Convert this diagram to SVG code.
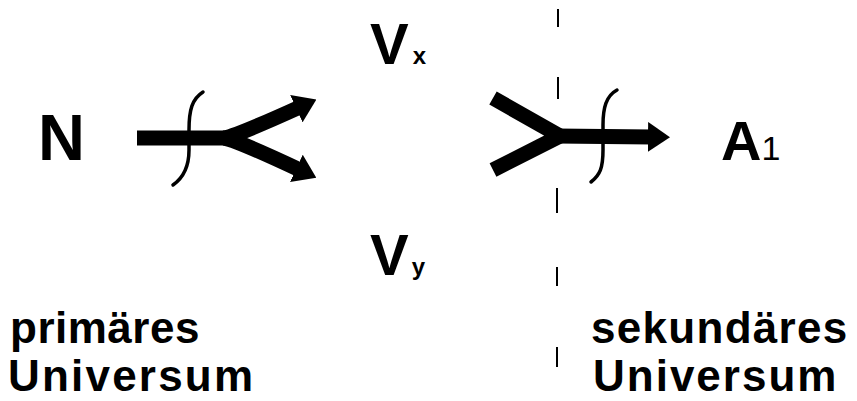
<svg xmlns="http://www.w3.org/2000/svg" width="857" height="401" viewBox="0 0 857 401">
<defs>
<style>
.t{font-family:"Liberation Sans",Arial,sans-serif;font-weight:bold;fill:#000}
.r{font-family:"Liberation Sans",Arial,sans-serif;font-weight:normal;fill:#000}
.bar{fill:none;stroke:#000;stroke-width:15;stroke-linejoin:round}
.cv{fill:none;stroke:#000;stroke-width:3.5;stroke-linecap:round}
.dash{stroke:#000;stroke-width:2}
</style>
<marker id="ah" markerUnits="userSpaceOnUse" viewBox="0 0 22 30" markerWidth="22" markerHeight="30" refX="4" refY="15" orient="auto">
<path d="M0,0 L22,15 L0,30 z" fill="#000"/>
</marker>
</defs>
<rect width="857" height="401" fill="#fff"/>
<g id="connectors">
<g id="split-left">
<path class="bar" d="M137,138 L226,138"/>
<path class="bar" d="M224,138 Q236,136 300,107" marker-end="url(#ah)"/>
<path class="bar" d="M224,138 Q236,140 300,170" marker-end="url(#ah)"/>
<path class="cv" d="M203,92 C192,99 189,110 189,130 L189,150 C189,168 183,178 173,185"/>
</g>
<g id="merge-right">
<path class="bar" d="M493,98 L560,136 L493,170"/>
<path class="bar" d="M556,136 L652,137" marker-end="url(#ah)"/>
<path class="cv" d="M617,90 C606,96 603,108 603,125 L603,150 C603,168 600,175 591,182"/>
</g>
<g id="boundary">
<line class="dash" x1="558" y1="9" x2="558" y2="27"/>
<line class="dash" x1="558" y1="77" x2="558" y2="99"/>
<line class="dash" x1="557" y1="188" x2="557" y2="213"/>
<line class="dash" x1="557" y1="267" x2="557" y2="286"/>
<line class="dash" x1="557" y1="347" x2="557" y2="367"/>
</g>
</g>
<g id="N"><text class="t" x="38" y="160" font-size="65">N</text></g>
<g id="Vx"><text class="t" x="370" y="64" font-size="58">V<tspan font-size="24" dx="4">x</tspan></text></g>
<g id="Vy"><text class="t" x="370" y="275" font-size="58">V<tspan font-size="24" dx="3">y</tspan></text></g>
<g id="A1"><text class="t" x="721" y="160" font-size="56">A<tspan class="r" font-size="34">1</tspan></text></g>
<g id="primaer">
<text class="t" font-size="44"><tspan x="10" y="343" letter-spacing="0.5">primäres</tspan><tspan x="8" y="391" letter-spacing="2.2">Universum</tspan></text>
</g>
<g id="sekundaer">
<text class="t" font-size="44"><tspan x="591" y="343" letter-spacing="1.3">sekundäres</tspan><tspan x="593" y="391" letter-spacing="2">Universum</tspan></text>
</g>
</svg>
